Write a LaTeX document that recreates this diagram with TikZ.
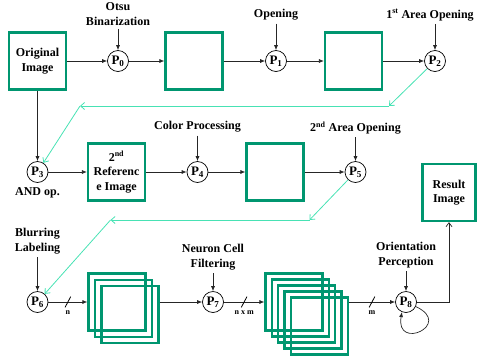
\documentclass[tikz,border=0pt]{standalone}
\usepackage{fontspec}
\setmainfont{Liberation Serif}
\usepackage{xcolor}
\usetikzlibrary{positioning}
\usetikzlibrary{arrows.meta}
\definecolor{boxgreen}{RGB}{0,150,112}
\definecolor{linkcyan}{RGB}{72,226,180}

\begin{document}
\begin{tikzpicture}[on grid, x=1pt, y=1pt,
  >={Latex[length=5pt,width=4pt]},
  imgbox/.style={draw=boxgreen, line width=2.2pt, minimum width=57pt, minimum height=57pt, inner sep=1pt, align=center, font=\bfseries\fontsize{12}{14.5}\selectfont},
  proc/.style={draw, circle, line width=0.7pt, minimum size=21pt, inner sep=0pt, font=\bfseries\fontsize{13}{13}\selectfont},
  lbl/.style={align=center, inner sep=3pt, font=\bfseries\fontsize{12}{15.5}\selectfont},
  dim/.style={font=\bfseries\fontsize{8}{8}\selectfont},
  slash/.style={inner sep=0pt, minimum width=5pt, minimum height=10pt},
  wire/.style={->, line width=0.7pt, draw=black!85},
  openwire/.style={line width=0.7pt, draw=black!85, -{Straight Barb[length=4pt,width=6pt]}},
  flow/.style={draw=linkcyan, line width=0.8pt, -{Straight Barb[length=4pt,width=7pt]}}]
\useasboundingbox (0,0) rectangle (477,-357);
\node[imgbox] (orig) at (37.5,-61) {Original\\Image};
\node[proc, right=80.5pt of orig] (p0) {P\textsubscript{0}};
\node[imgbox, right=76pt of p0] (box1) {};
\node[proc, right=82pt of box1] (p1) {P\textsubscript{1}};
\node[imgbox, right=77.5pt of p1] (box2) {};
\node[proc, right=81.5pt of box2] (p2) {P\textsubscript{2}};
%%%%%%%%%%%%%%%%%%%%%%%%%%%%%%%%%%%%%
\node[proc, below=111pt of orig] (p3) {P\textsubscript{3}};
\node[imgbox, right=79pt of p3] (ref) {2\textsuperscript{nd}\\Referenc\\e Image};
\node[proc, right=81pt of ref] (p4) {P\textsubscript{4}};
\node[imgbox, right=77.5pt of p4] (box3) {};
\node[proc, right=80.5pt of box3] (p5) {P\textsubscript{5}};
\node[imgbox, minimum width=53pt, below right=20.5pt and 93.5pt of p5] (result) {Result\\Image};
%%%%%%%%%%%%%%%%%%%%%%%%%%%%%%%%%%%%%
\node[proc, below=130pt of p3] (p6) {P\textsubscript{6}};
\node[imgbox, right=79.5pt of p6] (stA1) {};
\node[imgbox, below right=6.3pt and 6.5pt of stA1] (stA2) {};
\node[imgbox, below right=6.3pt and 6.5pt of stA2] (stA3) {};
\node[proc, right=96pt of stA1] (p7) {P\textsubscript{7}};
\node[imgbox, right=81pt of p7] (stB1) {};
\node[imgbox, below right=6pt and 6.3pt of stB1] (stB2) {};
\node[imgbox, below right=6pt and 6.3pt of stB2] (stB3) {};
\node[imgbox, below right=6pt and 6.3pt of stB3] (stB4) {};
\node[imgbox, below right=6pt and 6.3pt of stB4] (stB5) {};
\node[proc, right=112pt of stB1] (p8) {P\textsubscript{8}};
%%%%%%%%%%%%%%
\node[lbl, above=47pt of p0] (otsu) {Otsu\\Binarization};
\node[lbl, above=46pt of p1] (open) {Opening};
\node[lbl, above left=46pt and 5pt of p2] (area1) {1\textsuperscript{st} Area Opening};
\node[lbl, below=21pt of p3] (andop) {AND op.};
\node[lbl, above=45pt of p4] (color) {Color Processing};
\node[lbl, above=44pt of p5] (area2) {2\textsuperscript{nd} Area Opening};
\node[lbl, above=61pt of p6] (blur) {Blurring\\Labeling};
\node[lbl, above=45pt of p7] (neuron) {Neuron Cell\\Filtering};
\node[lbl, above=47pt of p8] (orient) {Orientation\\Perception};
%%%%%%%%%%%%%%
\coordinate[below left=45pt and 46pt of p2] (c1);
\coordinate[left=309pt of c1] (c2);
\coordinate[below left=48pt and 46pt of p5] (c3);
\coordinate[left=199pt of c3] (c4);

\draw[wire] (otsu) -- (p0);
\draw[wire] (open) -- (p1);
\draw[wire] (area1.south -| p2) -- (p2);
\draw[wire] (color) -- (p4);
\draw[wire] (area2) -- (p5);
\draw[wire] (blur) -- (p6);
\draw[wire] (neuron) -- (p7);
\draw[wire] (orient) -- (p8);
%%%%%%%%%%%%%%
\draw[wire] (orig) -- (p0);
\draw[wire] (p0) -- (box1);
\draw[wire] (box1) -- (p1);
\draw[wire] (p1) -- (box2);
\draw[wire] (box2) -- (p2);
\draw[wire] (orig) -- (p3);
\draw[wire] (p3) -- (ref);
\draw[wire] (ref) -- (p4);
\draw[wire] (p4) -- (box3);
\draw[wire] (box3) -- (p5);
%%%%%%%%%%%%%%
\draw[wire] (p6) -- node[slash, label={[dim]below:n}] (s6) {} (stA1);
\draw[wire] (stA3.east |- p7) -- (p7);
\draw[wire] (p7) -- node[slash, label={[dim]below:n x m}] (s7) {} (stB1);
\draw[wire] (stB5.east |- p8) -- node[slash, label={[dim]below:m}] (s8) {} (p8);
\draw[line width=0.8pt] (s6.south west) -- (s6.north east);
\draw[line width=0.8pt] (s7.south west) -- (s7.north east);
\draw[line width=0.8pt] (s8.south west) -- (s8.north east);
\draw[wire] (p8.-25) .. controls +(-25:42pt) and +(-100:40pt) .. (p8.-112);
\draw[openwire] (p8) -| (result);
%%%%%%%%%%%%%%
\draw[flow] (p2) -- (c1);
\draw[flow] (c1) -- (c2);
\draw[flow] (c2) -- (p3);
\draw[flow] (p5) -- (c3);
\draw[flow] (c3) -- (c4);
\draw[flow] (c4) -- (p6);
\end{tikzpicture}
\end{document}
